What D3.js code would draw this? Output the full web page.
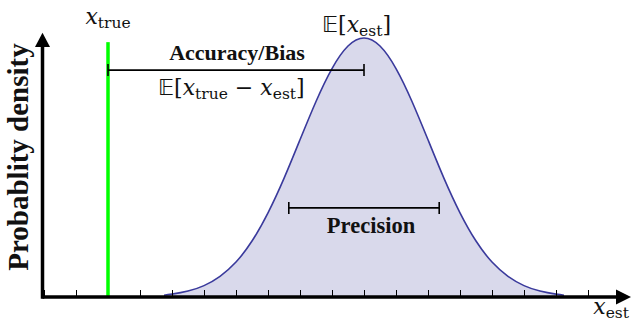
<!DOCTYPE html>
<html>
<head>
<meta charset="utf-8">
<script src="https://cdn.jsdelivr.net/npm/d3@7"></script>
<style>
  html, body { margin: 0; padding: 0; background: #fff; }
  svg { display: block; }
</style>
</head>
<body>
<svg id="chart"></svg>
<script>
// estimate grid (x_est) and the relative density
const estGrid = [3.75, 4, 4.5, 5, 5.5, 6, 6.5, 7, 7.5, 8, 8.5, 9, 9.5, 10,
  10.5, 11, 11.5, 12, 12.5, 13, 13.5, 14, 14.5, 15, 15.5, 16, 16.25];
const densityValues = [0.007, 0.011, 0.023, 0.044, 0.080, 0.135, 0.216, 0.325, 0.458,
  0.607, 0.755, 0.882, 0.969, 1.0, 0.969, 0.882, 0.755, 0.607, 0.458, 0.325,
  0.216, 0.135, 0.080, 0.044, 0.023, 0.011, 0.007];
const tickValues = [0, 1, 2, 3, 4, 5, 6, 7, 8, 9, 10, 11, 12, 13, 14, 15, 16, 17];
const trueValue = 2;
const meanEstimate = 10;
const precisionRange = [7.65, 12.35];
const biasLevel = 0.876;
const precisionLevel = 0.344;

const width = 631, height = 322;
const svg = d3.select("#chart").attr("width", width).attr("height", height);

const x = d3.scaleLinear().domain([0, 18]).range([44, 620]);
const y = d3.scaleLinear().domain([0, 1]).range([297, 38]);

const pts = estGrid.map((t, i) => [t, densityValues[i]]);

// shaded area + curve
svg.append("path")
  .datum(pts)
  .attr("fill", "#d9d9eb")
  .attr("d", d3.area().x(d => x(d[0])).y0(y(0)).y1(d => y(d[1])).curve(d3.curveNatural));

svg.append("path")
  .datum(pts)
  .attr("fill", "none")
  .attr("stroke", "#3a3a9c")
  .attr("stroke-width", 1.6)
  .attr("d", d3.line().x(d => x(d[0])).y(d => y(d[1])).curve(d3.curveNatural));

// ticks along the x axis
const xAxis = svg.append("g")
  .attr("transform", `translate(0,${y(0)})`)
  .call(d3.axisBottom(x).tickValues(tickValues).tickSize(-7).tickFormat(""));
xAxis.select(".domain").remove();
xAxis.selectAll(".tick line").attr("stroke", "#000").attr("stroke-width", 1);

// true value line
svg.append("line")
  .attr("x1", x(trueValue)).attr("x2", x(trueValue))
  .attr("y1", y(0)).attr("y2", y(0.984))
  .attr("stroke", "#00ff00").attr("stroke-width", 3.5);

// axes with arrows
const x0 = x(0) - 1.5;
svg.append("line")
  .attr("x1", x0).attr("x2", x.range()[1])
  .attr("y1", y(0)).attr("y2", y(0))
  .attr("stroke", "#000").attr("stroke-width", 3.5);
svg.append("line")
  .attr("x1", x0).attr("x2", x0)
  .attr("y1", y(0) + 1.75).attr("y2", y(0.97))
  .attr("stroke", "#000").attr("stroke-width", 3.5);
svg.append("path")
  .attr("d", `M${x.range()[1] + 11},${y(0)} L${x.range()[1] - 4},${y(0) - 7.5} L${x.range()[1] - 4},${y(0) + 7.5}Z`)
  .attr("fill", "#000");
svg.append("path")
  .attr("d", `M${x0},${y(1.02)} L${x0 - 7.5},${y(0.965)} L${x0 + 7.5},${y(0.965)}Z`)
  .attr("fill", "#000");

// bracket helper
function bracket(a, b, level) {
  const yy = y(level);
  const g = svg.append("g").attr("stroke", "#000").attr("stroke-width", 1.6);
  g.append("line").attr("x1", x(a)).attr("x2", x(b)).attr("y1", yy).attr("y2", yy);
  g.append("line").attr("x1", x(a)).attr("x2", x(a)).attr("y1", yy - 6).attr("y2", yy + 6);
  g.append("line").attr("x1", x(b)).attr("x2", x(b)).attr("y1", yy - 6).attr("y2", yy + 6);
}
bracket(trueValue, meanEstimate, biasLevel);
bracket(precisionRange[0], precisionRange[1], precisionLevel);

const serif = "'Liberation Serif', 'DejaVu Serif', serif";
const mathFont = "'DejaVu Serif', 'Liberation Serif', serif";

function boldLabel(text, cx, baseline, size) {
  return svg.append("text")
    .attr("x", cx).attr("y", baseline)
    .attr("text-anchor", "middle")
    .attr("font-family", serif).attr("font-weight", "bold")
    .attr("font-size", size).attr("fill", "#111")
    .text(text);
}
boldLabel("Accuracy/Bias", 237, 60, 22);
boldLabel("Precision", (x(precisionRange[0]) + x(precisionRange[1])) / 2 + 7, 233, 22.5);

svg.append("text")
  .attr("transform", "translate(28,157) rotate(-90)")
  .attr("text-anchor", "middle")
  .attr("font-family", serif).attr("font-weight", "bold")
  .attr("font-size", 29).attr("fill", "#111")
  .text("Probablity density");

// math labels
function mathLabel(parts, px, baseline, anchor) {
  const t = svg.append("text")
    .attr("x", px).attr("y", baseline)
    .attr("text-anchor", anchor || "start")
    .attr("font-family", mathFont).attr("font-size", 22).attr("fill", "#111");
  parts.forEach(p => {
    const s = t.append("tspan").text(p.t);
    if (p.i) s.attr("font-style", "italic");
    if (p.sub) s.attr("font-size", 15.5).attr("dy", 4);
    if (p.up) s.attr("dy", -4);
    if (p.f) s.attr("font-family", p.f);
  });
  return t;
}
mathLabel([{t: "x", i: true}, {t: "true", sub: true}], x(trueValue), 24, "middle");
mathLabel([{t: "𝔼", f: "'DejaVu Sans'"}, {t: "["}, {t: "x", i: true}, {t: "est", sub: true},
  {t: "]", up: true}], 322, 32, "start");
mathLabel([{t: "𝔼", f: "'DejaVu Sans'"}, {t: "["}, {t: "x", i: true}, {t: "true", sub: true},
  {t: " − ", up: true}, {t: "x", i: true}, {t: "est", sub: true}, {t: "]", up: true}], 158, 95, "start");
mathLabel([{t: "x", i: true}, {t: "est", sub: true}], 629, 314, "end");
</script>
</body>
</html>
